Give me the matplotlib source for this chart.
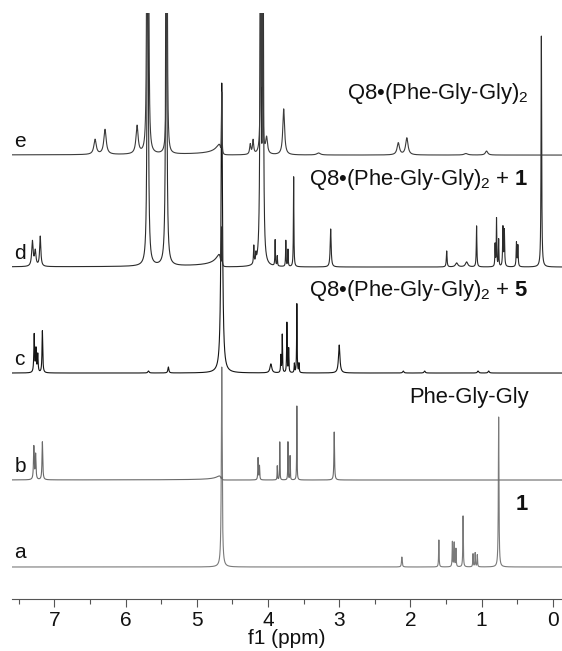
"""Stacked 1H NMR spectra: Q8 / Phe-Gly-Gly complexes with guests 1 and 5."""

import matplotlib

matplotlib.use("Agg")

import matplotlib.pyplot as plt
import numpy as np
from matplotlib.ticker import MultipleLocator

plt.rcParams["font.family"] = ["Liberation Sans", "DejaVu Sans"]
plt.rcParams["mathtext.fontset"] = "custom"
plt.rcParams["mathtext.rm"] = "Liberation Sans"
plt.rcParams["mathtext.bf"] = "Liberation Sans:bold"

# peak lists: position (ppm), height (baseline units), half width (ppm)
a_ppm = [4.65, 2.12, 1.60, 1.41, 1.385, 1.36, 1.26, 1.12, 1.09, 1.06, 0.76]
a_height = [200, 10, 27, 25, 24, 18, 51, 13, 14, 12, 150]
a_width = [0.007, 0.006, 0.004, 0.004, 0.004, 0.004, 0.004, 0.004, 0.004, 0.004, 0.005]

b_ppm = [7.29, 7.265, 7.17, 4.65, 4.14, 4.12, 3.87, 3.835, 3.72, 3.69, 3.595, 3.07]
b_height = [33, 25, 38, 3, 22, 14, 14, 38, 38, 24, 74, 48]
b_width = [0.006, 0.006, 0.006, 0.005, 0.004, 0.004, 0.003, 0.003, 0.003, 0.003, 0.003, 0.005]

c_ppm = [7.285, 7.26, 7.235, 7.17, 5.68, 5.40, 4.65, 3.96, 3.82, 3.80, 3.735, 3.71,
         3.63, 3.595, 3.565, 3.00, 2.10, 1.80, 1.05, 0.90]
c_height = [38, 23, 18, 42, 2, 6, 290, 9, 17, 38, 50, 24, 9, 69, 9, 28, 2, 2, 2, 2]
c_width = [0.006, 0.006, 0.006, 0.006, 0.01, 0.008, 0.012, 0.015, 0.004, 0.004, 0.004, 0.004,
           0.004, 0.004, 0.004, 0.012, 0.01, 0.01, 0.01, 0.01]

d_ppm = [7.31, 7.27, 7.20, 5.69, 5.43, 4.65, 4.20, 4.17, 4.105, 4.07, 3.90, 3.87, 3.75,
         3.72, 3.64, 3.12, 1.49, 1.35, 1.21, 1.07, 0.81, 0.79, 0.76, 0.70, 0.68, 0.51,
         0.49, 0.16]
d_height = [25, 15, 30, 500, 500, 40, 18, 8, 500, 400, 26, 10, 26, 17, 90, 38, 16, 4, 5,
            41, 22, 48, 27, 39, 36, 24, 21, 231]
d_width = [0.012, 0.012, 0.01, 0.008, 0.008, 0.004, 0.005, 0.005, 0.007, 0.007, 0.004,
           0.004, 0.004, 0.004, 0.004, 0.008, 0.006, 0.02, 0.02, 0.005, 0.004, 0.004,
           0.004, 0.005, 0.005, 0.005, 0.005, 0.005]

e_ppm = [6.43, 6.29, 5.84, 5.70, 5.68, 5.42, 4.65, 4.25, 4.21, 4.10, 4.075, 4.02, 3.78,
         3.29, 2.17, 2.05, 1.22, 0.93]
e_height = [15, 25, 28, 300, 300, 300, 63, 10, 14, 300, 130, 16, 46, 2, 12, 17, 1.5, 4]
e_width = [0.02, 0.02, 0.018, 0.007, 0.007, 0.007, 0.004, 0.01, 0.01, 0.006, 0.005,
           0.015, 0.015, 0.03, 0.02, 0.02, 0.03, 0.02]

# one-sided rise of the residual water signal: (ppm, amplitude, half width)
b_hump = [4.655, 4, 0.03]
d_hump = [4.66, 12, 0.03]
e_hump = [4.66, 10, 0.03]

labels = ["a", "b", "c", "d", "e"]
offsets = [32, 119, 226, 332, 444]
colors = ["#7a7a7a", "#6a6a6a", "#151515", "#2c2c2c", "#3c3c3c"]
titles = [
    r"$\mathbf{1}$",
    "Phe-Gly-Gly",
    r"Q8•(Phe-Gly-Gly)$_2$ + $\mathbf{5}$",
    r"Q8•(Phe-Gly-Gly)$_2$ + $\mathbf{1}$",
    r"Q8•(Phe-Gly-Gly)$_2$",
]
title_y = [95, 202, 309, 420, 506]


def _lorentz(grid, ppm, height, width):
    out = np.zeros_like(grid)
    for p, h, w in zip(ppm, height, width):
        out += h * w**2 / ((grid - p) ** 2 + w**2)
    return out


def _hump(grid, hump):
    if hump is None:
        return np.zeros_like(grid)
    p, amp, w = hump
    d = amp * 2 * w * (grid - p) / ((grid - p) ** 2 + w**2)
    return np.clip(d, 0, None)


def plot_spectra(output_path: str) -> None:
    grid = np.linspace(7.6, -0.14, 40000)
    peaks = [
        (a_ppm, a_height, a_width, None),
        (b_ppm, b_height, b_width, b_hump),
        (c_ppm, c_height, c_width, None),
        (d_ppm, d_height, d_width, d_hump),
        (e_ppm, e_height, e_width, e_hump),
    ]

    fig = plt.figure(figsize=(5.62, 6.51), dpi=100)
    ax = fig.add_axes([0.0222, 0.0799, 0.9778, 0.900])

    for (ppm, height, width, hump), off, col, lab, title, ty in zip(
        peaks, offsets, colors, labels, titles, title_y
    ):
        y = _lorentz(grid, ppm, height, width) + _hump(grid, hump) + off
        ax.plot(grid, y, color=col, lw=0.8)
        ax.text(7.565, off + 14, lab, fontsize=15, ha="left", va="center", color="#111")
        ax.text(0.34, ty, title, fontsize=15.8, ha="right", va="center", color="#111")

    ax.set_xlim(7.59, -0.13)
    ax.set_ylim(0, 586)
    for side in ("top", "left", "right"):
        ax.spines[side].set_visible(False)
    ax.spines["bottom"].set_color("#555")
    ax.spines["bottom"].set_linewidth(0.8)
    ax.set_yticks([])
    ax.set_xticks(range(0, 8))
    ax.xaxis.set_minor_locator(MultipleLocator(0.5))
    ax.tick_params(axis="x", which="major", length=6, width=0.8, color="#555",
                   labelsize=15, pad=3, labelcolor="#111")
    ax.tick_params(axis="x", which="minor", length=3.5, width=0.8, color="#555")

    fig.text(287 / 562, 1 - 639 / 651, "f1 (ppm)", fontsize=15, ha="center",
             va="center", color="#111")

    fig.savefig(output_path, dpi=100)
    plt.close(fig)


if __name__ == "__main__":
    plot_spectra("out.png")
